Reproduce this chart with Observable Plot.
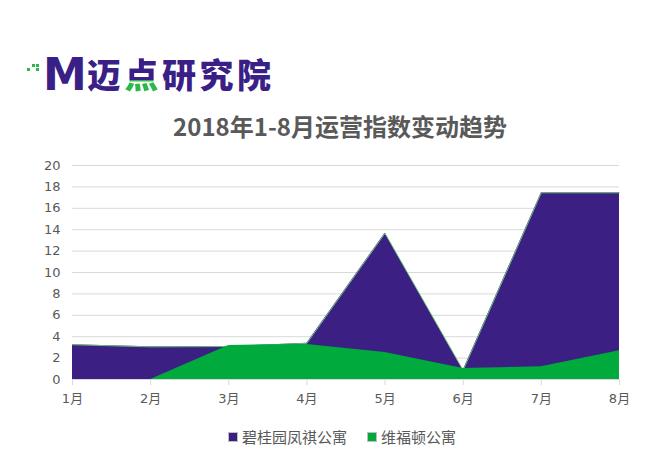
<!DOCTYPE html>
<html><head><meta charset="utf-8">
<script src="https://cdn.jsdelivr.net/npm/d3@7"></script>
<script src="https://cdn.jsdelivr.net/npm/@observablehq/plot@0.6"></script>
<style>
body{margin:0;width:650px;height:461px;background:#fff;position:relative;overflow:hidden;font-family:"Noto Sans CJK SC",sans-serif}
#logo{position:absolute;left:0;top:0;}
.dot{position:absolute;background:#2fb84a}
#logoM{position:absolute;left:43px;top:53px;font-family:"DejaVu Sans";font-weight:bold;font-size:44px;line-height:44px;color:#3a1f86;transform:scaleX(1.0);transform-origin:left top}
#logoTxt{position:absolute;left:87px;top:55px;font-family:"Noto Sans CJK SC";font-weight:900;font-size:34px;line-height:38px;letter-spacing:3.5px;white-space:nowrap;color:#3a1f86}
#dian{background:linear-gradient(to bottom,#3a1f86 0,#3a1f86 64%,#2fb84a 64%,#2fb84a 100%);-webkit-background-clip:text;background-clip:text;color:transparent}
#title{position:absolute;left:15px;width:650px;top:112px;text-align:center;font-size:24px;line-height:27px;font-weight:bold;color:#595959}
#chart{position:absolute;left:0;top:150px}
#legend{position:absolute;left:228px;top:426px;display:flex;align-items:center;font-size:15px;color:#595959;white-space:nowrap}
.sw{width:8px;height:8px;border:1px solid #bfbfbf;margin-right:4px}
</style></head>
<body>
<div id="logo">
  <div class="dot" style="left:27px;top:68px;width:3px;height:3px"></div>
  <div class="dot" style="left:32px;top:64px;width:3px;height:3px"></div>
  <div class="dot" style="left:36px;top:68px;width:3px;height:3px"></div>
  <div class="dot" style="left:36px;top:64px;width:3px;height:3px"></div>
  <div id="logoM">M</div>
  <div id="logoTxt">迈<span id="dian">点</span>研究院</div>
</div>
<div id="title">2018年1-8月运营指数变动趋势</div>
<div id="chart"></div>
<div id="legend"></div>
<script>
const months = ["1月","2月","3月","4月","5月","6月","7月","8月"];
const seriesNames = ["碧桂园凤祺公寓","维福顿公寓"];
const biguiyuan = [3.25, 3.05, 3.08, 3.38, 13.67, 0.87, 17.45, 17.45];
const weifudun = [0, 0, 3.18, 3.28, 2.53, 1.03, 1.18, 2.68];
const yTicks = [0,2,4,6,8,10,12,14,16,18,20];
const colors = ["#3b1f82","#00aa3c"];

const idx = months.map((m,i)=>i);
const data = months.map((m,i)=>({i, month:m, a:biguiyuan[i], b:weifudun[i]}));

const chart = Plot.plot({
  width:650, height:270,
  marginTop:15, marginLeft:72, marginRight:31, marginBottom:41,
  style:{fontSize:"13px", fontFamily:"'DejaVu Sans','Noto Sans CJK SC',sans-serif", color:"#595959", background:"transparent"},
  x:{type:"linear", domain:[0,7], label:null},
  y:{domain:[0,20], label:null},
  marks:[
    Plot.ruleY(yTicks.filter(t=>t>0), {stroke:"#d9d9d9", strokeWidth:1}),
    Plot.areaY(data, {x:"i", y:"a", fill:colors[0]}),
    Plot.lineY(data, {x:"i", y:"a", stroke:"#6fcf78", strokeWidth:0.9}),
    Plot.areaY(data, {x:"i", y:"b", fill:colors[1]}),
    Plot.ruleY([0], {stroke:"#d9d9d9", strokeWidth:1}),
    Plot.axisX(idx, {tickSize:6, tickPadding:8, tickFormat:i=>months[i], stroke:"#d9d9d9", fill:"#595959", label:null}),
    Plot.axisY(yTicks, {tickSize:0, tickPadding:12, fill:"#595959", label:null})
  ]
});
document.getElementById("chart").appendChild(chart);

const legend = document.getElementById("legend");
seriesNames.forEach((n,k)=>{
  const item = document.createElement("div");
  item.style.display="flex"; item.style.alignItems="center";
  if(k>0) item.style.marginLeft="20px";
  const sw = document.createElement("div"); sw.className="sw"; sw.style.background=colors[k];
  const t = document.createElement("span"); t.textContent=n;
  item.appendChild(sw); item.appendChild(t); legend.appendChild(item);
});
</script>
</body></html>
